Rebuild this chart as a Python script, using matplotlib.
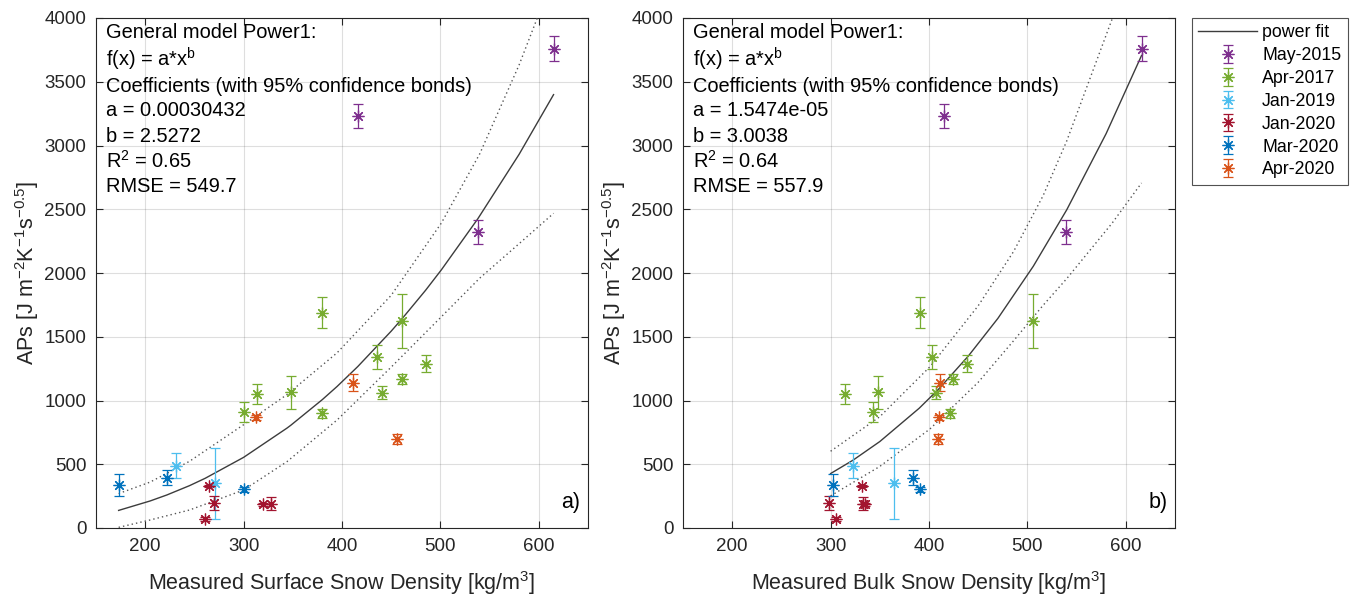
import numpy as np
import matplotlib.pyplot as plt

plt.rcParams['font.family'] = ['Liberation Sans', 'DejaVu Sans']
plt.rcParams['mathtext.fontset'] = 'custom'
plt.rcParams['mathtext.rm'] = 'Liberation Sans'
plt.rcParams['mathtext.it'] = 'Liberation Sans:italic'
plt.rcParams['mathtext.default'] = 'regular'

# --- data ---
campaigns = ['May-2015', 'Apr-2017', 'Jan-2019', 'Jan-2020', 'Mar-2020', 'Apr-2020']
colors = ['#7E2F8E', '#77AC30', '#4DBEEE', '#A2142F', '#0072BD', '#D95319']

aps = [
    [3230, 3760, 2320],
    [910, 1050, 1065, 1690, 900, 1340, 1060, 1625, 1170, 1290],
    [490, 350],
    [330, 195, 70, 185, 190],
    [335, 395, 305],
    [870, 1140, 700],
]
aps_err = [
    [95, 100, 95],
    [80, 80, 130, 125, 35, 95, 50, 210, 40, 70],
    [100, 280],
    [10, 55, 15, 15, 50],
    [85, 60, 20],
    [20, 65, 40],
]
surface_density = [
    [416, 615, 538],
    [300, 314, 348, 380, 380, 436, 441, 461, 461, 485],
    [231, 271],
    [265, 270, 261, 320, 328],
    [173, 222, 300],
    [313, 411, 456],
]
bulk_density = [
    [415, 616, 539],
    [343, 315, 348, 391, 421, 403, 407, 506, 424, 439],
    [323, 364],
    [332, 298, 305, 335, 333],
    [302, 384, 391],
    [410, 411, 409],
]

# power fit curves and confidence bounds
surf_fit_x = [173, 205, 222, 245, 261, 300, 344, 348, 380, 395, 416, 450, 461, 485, 501, 538, 580, 615]
surf_fit_y = [138, 212, 259, 332, 390, 554, 783, 806, 1007, 1110, 1266, 1544, 1641, 1865, 2025, 2425, 2931, 3399]
surf_bnd_x = [173, 205, 245, 300, 344, 395, 450, 501, 540, 580, 615]
surf_low = [5, 63, 141, 298, 520, 847, 1262, 1657, 1960, 2230, 2468]
surf_up = [270, 360, 523, 810, 1046, 1374, 1825, 2392, 2935, 3632, 4330]

bulk_fit_x = [300, 323, 350, 390, 410, 440, 470, 506, 540, 580, 616]
bulk_fit_y = [427, 533, 678, 939, 1091, 1349, 1644, 2053, 2496, 3093, 3706]
bulk_bnd_x = [300, 350, 401, 450, 486, 516, 540, 586, 616]
bulk_low = [252, 483, 777, 1143, 1469, 1747, 1956, 2390, 2706]
bulk_up = [602, 873, 1265, 1743, 2169, 2607, 3036, 3990, 4706]

surf_text = ['General model Power1:', 'f(x) = a*x$^{b}$',
             'Coefficients (with 95% confidence bonds)',
             'a = 0.00030432', 'b = 2.5272', 'R$^2$ = 0.65', 'RMSE = 549.7']
bulk_text = ['General model Power1:', 'f(x) = a*x$^{b}$',
             'Coefficients (with 95% confidence bonds)',
             'a = 1.5474e-05', 'b = 3.0038', 'R$^2$ = 0.64', 'RMSE = 557.9']

panels = [
    (surface_density, surf_fit_x, surf_fit_y, surf_bnd_x, surf_low, surf_up, surf_text,
     'Measured Surface Snow Density [kg/m$^3$]', 'a)'),
    (bulk_density, bulk_fit_x, bulk_fit_y, bulk_bnd_x, bulk_low, bulk_up, bulk_text,
     'Measured Bulk Snow Density [kg/m$^3$]', 'b)'),
]

dark = '#262626'
W, H = 1357, 599
fig = plt.figure(figsize=(W / 100, H / 100), dpi=100)
lefts = [96, 683]
line_y = [33, 59, 86, 111, 136, 161, 186]

for k, (xs, fx, fy, bx, blo, bup, txt, xlabel, tag) in enumerate(panels):
    ax = fig.add_axes([lefts[k] / W, (H - 528) / H, 492 / W, 510 / H])

    fit_line, = ax.plot(fx, fy, color='#3c3c3c', lw=1.0, label='power fit', zorder=3)
    ax.plot(bx, blo, color='#555555', lw=1.0, ls=(0, (1, 2.2)), zorder=3)
    ax.plot(bx, bup, color='#555555', lw=1.0, ls=(0, (1, 2.2)), zorder=3)

    handles = [fit_line]
    for name, c, x, y, e in zip(campaigns, colors, xs, aps, aps_err):
        eb = ax.errorbar(x, y, yerr=e, linestyle='none', marker=(8, 2, 0), ms=8.5,
                         mew=0.9, color=c, elinewidth=0.9, capsize=3.8,
                         capthick=0.9, zorder=4, label=name)
        handles.append(eb)

    ax.set_xlim(150, 650)
    ax.set_ylim(0, 4000)
    ax.set_xticks([200, 300, 400, 500, 600])
    ax.set_yticks(np.arange(0, 4001, 500))
    ax.grid(True, color=dark, alpha=0.15, lw=0.8)
    ax.set_axisbelow(True)
    for sp in ax.spines.values():
        sp.set_color(dark)
        sp.set_linewidth(0.8)
    ax.tick_params(direction='in', top=True, right=True, length=5, width=0.8,
                   colors=dark, labelsize=13.5, pad=7)
    ax.set_xlabel(xlabel, fontsize=15.5, color=dark, labelpad=10)
    ax.set_ylabel('APs [J m$^{-2}$K$^{-1}$s$^{-0.5}$]', fontsize=15.5, color=dark, labelpad=2)

    for t, yy in zip(txt, line_y):
        ax.text(10 / 492, (528 - yy) / 510, t, transform=ax.transAxes,
                fontsize=14.4, va='center', ha='left', color='black')
    ax.text(0.985, 0.03, tag, transform=ax.transAxes, fontsize=15.5,
            ha='right', va='bottom', color='black')

leg = fig.legend(handles=handles, loc='upper left',
                 bbox_to_anchor=(1192 / W, 1 - 18 / H), fontsize=12.8,
                 frameon=True, fancybox=False, edgecolor=dark, borderpad=0.35,
                 handlelength=3.3, handletextpad=0.3, labelspacing=0.33,
                 borderaxespad=0)
leg.get_frame().set_linewidth(0.8)

fig.savefig('out.png', dpi=100)
